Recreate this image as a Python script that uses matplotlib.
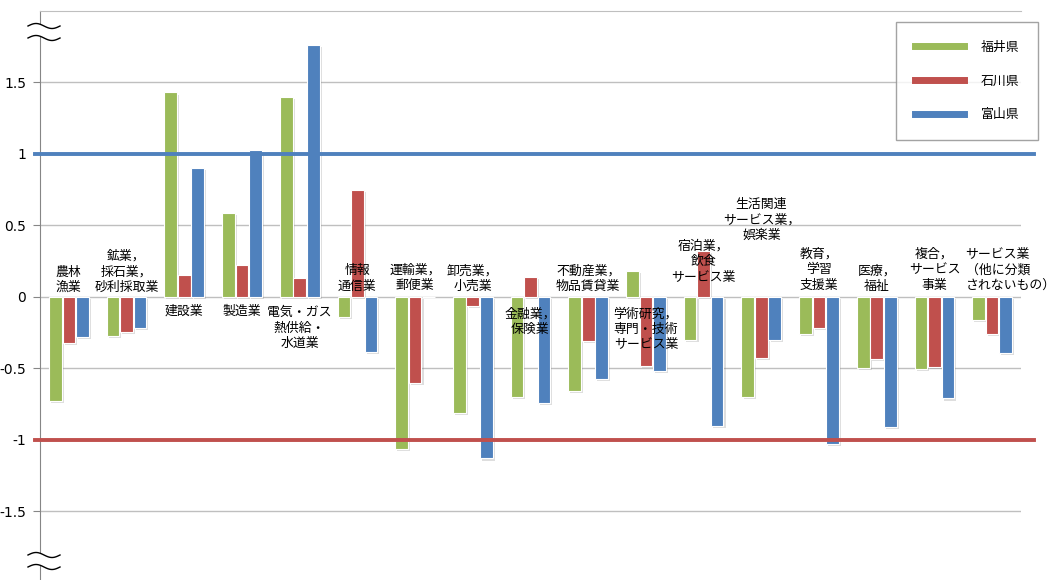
import matplotlib
matplotlib.use('Agg')
import matplotlib.pyplot as plt
import matplotlib.patheffects as pe
from matplotlib.lines import Line2D
import numpy as np

plt.rcParams['font.family'] = ['Noto Sans CJK JP', 'DejaVu Sans']

# 産業分類（グラフ内のラベル）
sangyo = ['農林\n漁業', '鉱業，\n採石業，\n砂利採取業', '建設業', '製造業',
          '電気・ガス\n熱供給・\n水道業', '情報\n通信業', '運輸業，\n郵便業',
          '卸売業，\n小売業', '金融業，\n保険業', '不動産業，\n物品賃貸業',
          '学術研究，\n専門・技術\nサービス業', '宿泊業，\n飲食\nサービス業',
          '生活関連\nサービス業，\n娯楽業', '教育，\n学習\n支援業', '医療，\n福祉',
          '複合，\nサービス\n事業', 'サービス業\n（他に分類\nされないもの）']

# 県別の値
kenmei = ['福井県', '石川県', '富山県']
fukui = [-0.73, -0.275, 1.43, 0.59, 1.40, -0.14, -1.065, -0.81, -0.70,
         -0.66, 0.18, -0.30, -0.70, -0.26, -0.50, -0.505, -0.16]
ishikawa = [-0.32, -0.245, 0.154, 0.22, 0.135, 0.75, -0.60, -0.06, 0.14,
            -0.31, -0.48, 0.32, -0.43, -0.22, -0.435, -0.49, -0.26]
toyama = [-0.28, -0.22, 0.90, 1.03, 1.76, -0.385, 0.0, -1.13, -0.74,
          -0.575, -0.515, -0.90, -0.30, -1.03, -0.91, -0.71, -0.39]

# 目盛
y_ticks = [-1.5, -1, -0.5, 0, 0.5, 1, 1.5]
y_tick_labels = ['-1.5', '-1', '-0.5', '0', '0.5', '1', '1.5']

# ラベルの縦位置（ブロック中心）と横ずれ
label_y = [0.12, 0.175, -0.098, -0.098, -0.217, 0.129, 0.136, 0.129, -0.171,
           0.129, -0.227, 0.245, 0.538, 0.189, 0.129, 0.189, 0.189]
label_dx = [0] * 16 + [0.32]

colors = ['#9bbb59', '#c0504d', '#4f81bd']

W, H = 1056, 580
fig = plt.figure(figsize=(W / 100, H / 100), dpi=100)
ax = fig.add_axes([40 / W, 0, 981 / W, 569 / H])

x = np.arange(len(sangyo))
width = 0.22
step = 0.234
sombra = [pe.SimplePatchShadow(offset=(1.5, -1.5), shadow_rgbFace='#7f7f7f', alpha=0.25), pe.Normal()]
for i, (vals, c) in enumerate(zip([fukui, ishikawa, toyama], colors)):
    bars = ax.bar(x + (i - 1) * step, vals, width, color=c, edgecolor='white',
                  linewidth=0.8, zorder=2)
    for b in bars:
        b.set_path_effects(sombra)

# 基準線 (+1, -1)
ax.axhline(1, xmin=-0.005, xmax=1.013, color='#4f81bd', linewidth=2.8, clip_on=False, zorder=4)
ax.axhline(-1, xmin=-0.005, xmax=1.013, color='#c0504d', linewidth=2.8, clip_on=False, zorder=4)

# 産業名
for i, name in enumerate(sangyo):
    ax.text(i + label_dx[i], label_y[i], name, ha='center', va='center',
            multialignment='center' if i < 16 else 'left',
            fontsize=9.3, linespacing=1.25, zorder=5)

ax.set_xlim(-0.5, len(sangyo) - 0.5)
ax.set_ylim(-1.98, 2.0)
ax.set_xticks([])
ax.set_yticks(y_ticks)
ax.set_yticklabels(y_tick_labels, fontsize=10, family='DejaVu Sans')
ax.tick_params(axis='y', length=5, color='#868686', pad=5)
ax.yaxis.grid(True, color='#bfbfbf', linewidth=1)
ax.set_axisbelow(True)
for s in ['right', 'bottom']:
    ax.spines[s].set_visible(False)
ax.spines['left'].set_color('#868686')
ax.spines['top'].set_color('#bfbfbf')

# 凡例
handles = [Line2D([0], [0], color=c, linewidth=5) for c in colors]
leg = ax.legend(handles, kenmei, loc='upper left', bbox_to_anchor=(896 / W, 1 - 22 / H),
                bbox_transform=fig.transFigure, fancybox=False, fontsize=9.3,
                handlelength=3.8, handletextpad=1.3, labelspacing=1.6,
                borderpad=1.45, borderaxespad=0)
leg.get_frame().set_edgecolor('#8c8c8c')
leg.get_frame().set_linewidth(1)
leg.set_zorder(6)


# 縦軸の省略記号
def nami(yc):
    px = np.linspace(28, 60, 60)
    wave = -2.5 * np.sin(2 * np.pi * (px - 28) / 32)
    y1 = yc - 6 + wave
    y2 = yc + 6 + wave
    fx = px / W
    fig.patches.append(plt.Polygon(np.column_stack([np.r_[fx, fx[::-1]],
                                                    1 - np.r_[y1, y2[::-1]] / H]),
                                   closed=True, facecolor='white', edgecolor='none',
                                   transform=fig.transFigure, zorder=10))
    for yy in (y1, y2):
        fig.lines.append(Line2D(fx, 1 - yy / H, color='black', linewidth=1,
                                transform=fig.transFigure, zorder=11))


nami(32)
nami(561)

fig.savefig('out.png', dpi=100)
